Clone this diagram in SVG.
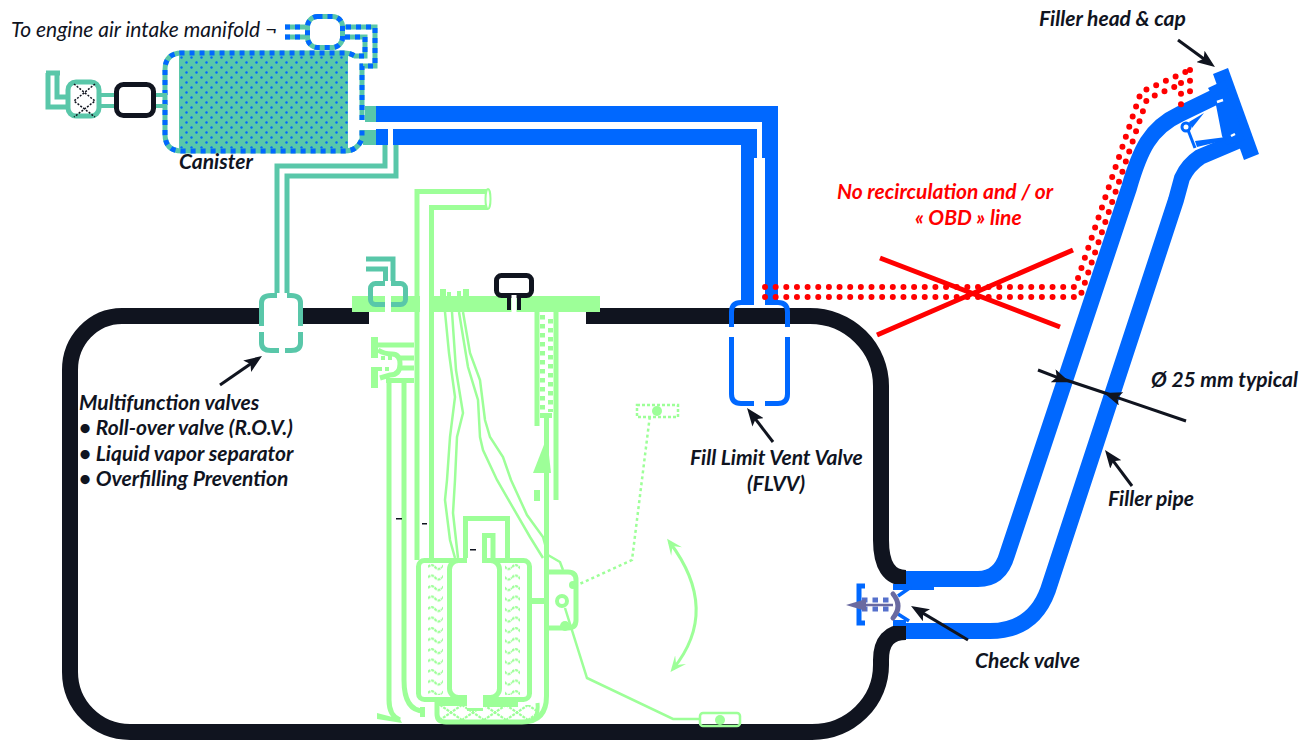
<svg xmlns="http://www.w3.org/2000/svg" width="1304" height="747" viewBox="0 0 1304 747">
<style>
text{font-family:"Lato","Open Sans","Liberation Sans",sans-serif;font-style:italic;fill:#10141f;font-size:21px}
.b{font-weight:700}
.r{fill:#f00}
.tank{fill:none;stroke:#10141f;stroke-width:16}
.blue{fill:none;stroke:#0068ff;stroke-width:16}
.bt{fill:none;stroke:#0068ff;stroke-width:5}
.bf{fill:#0068ff}
.teal{fill:none;stroke:#59c7a9;stroke-width:5}
.dash{fill:none;stroke:#0068ff;stroke-width:5;stroke-dasharray:5 5}
.g{fill:none;stroke:#9dff98;stroke-width:5}
.gt{fill:none;stroke:#9dff98;stroke-width:2.5}
.gf{fill:#9dff98}
.red{fill:none;stroke:#f00;stroke-width:6;stroke-linecap:round;stroke-dasharray:0 10.65}
.arrow{fill:none;stroke:#10141f;stroke-width:3;marker-end:url(#ah)}
</style>
<defs>
<marker id="ah" markerUnits="userSpaceOnUse" viewBox="0 0 18 14" refX="10" refY="7" markerWidth="18" markerHeight="14" orient="auto"><path d="M0,0L18,7L0,14L4,7Z" fill="#10141f"/></marker>
<marker id="gh" markerUnits="userSpaceOnUse" viewBox="0 0 16 14" refX="12" refY="7" markerWidth="16" markerHeight="14" orient="auto-start-reverse"><path d="M0,0L16,7L0,14L7,7Z" fill="#9dff98"/></marker>
<pattern id="dots" width="10" height="10" patternUnits="userSpaceOnUse" x="179" y="55"><rect width="10" height="10" fill="#59c7a9"/><circle cx="2.5" cy="2.5" r="1.2" fill="#0068ff"/><circle cx="7.5" cy="7.5" r="1.2" fill="#0068ff"/></pattern>
<pattern id="wave" width="14" height="10.5" patternUnits="userSpaceOnUse" x="428" y="563"><path d="M0,4Q3.5,0 7,4T14,4" fill="none" stroke="#9dff98" stroke-width="2.2" stroke-dasharray="3 .8"/></pattern>
<pattern id="xx" width="22" height="15" patternUnits="userSpaceOnUse" x="440" y="705"><path d="M0,0L22,15M22,0L0,15" fill="none" stroke="#9dff98" stroke-width="2.2" stroke-dasharray="3 1"/></pattern>
</defs>

<g id="tank">
<path class="tank" d="M260,316H122A52,54 0 0 0 70,370V672A60,60 0 0 0 130,732H812A69,67 0 0 0 881,665V660Q881,632 906,632"/>
<path class="tank" d="M906,578Q881,578 881,540V386A71,70 0 0 0 810,316H586"/>
<path class="tank" d="M300,316H369"/>
</g>

<g id="connectors">
<g id="pipes-vent">
<path class="bf" d="M376,106H778V300H765V158H762V122H376Z"/>
<path class="bf" d="M376,129H757V158H754V300H741V145H376Z"/>
<rect x="388" y="129" width="5" height="16" fill="#fff"/>
<rect x="365" y="106" width="11" height="16" fill="#59c7a9"/>
<rect x="363" y="130" width="13" height="15" fill="#59c7a9"/>
<path class="teal" d="M277,293V166H385V145"/>
<path class="teal" d="M287,293V176H396V145"/>
</g>
<g id="pipes-filler">
<path class="blue" d="M906,579H978Q1000,579 1007,555L1125,200L1129,188C1140,150 1150,128 1180,114L1215,97"/>
<path class="blue" d="M906,631H990Q1033,631 1048,590L1176,200L1182,178Q1188,165 1200,157L1240,140"/>
</g>
<g id="red-line">
<path class="red" d="M765,287H1075L1141,92L1190,70"/>
<path class="red" d="M765,297H1080L1147,99L1181,84"/>
<path class="red" d="M1190,70V101"/>
<path class="red" d="M1181,83V105"/>
<path d="M880,258L1060,327M877,335L1073,250" fill="none" stroke="#f00" stroke-width="5"/>
</g>
<g id="leaders">
<path class="arrow" d="M1178,40L1208.5,62.3"/>
<path class="arrow" d="M220,385L255.4,360.5"/>
<path class="arrow" d="M773,442L751.9,414.4"/>
<path class="arrow" d="M968,640L917.9,610.1"/>
<path d="M1060,378L1114,396" fill="none" stroke="#10141f" stroke-width="3"/>
<path class="arrow" d="M1038,370L1062.4,379.4"/>
<path class="arrow" d="M1186,421L1111.6,395.6"/>
<path class="arrow" d="M1132,486L1109.8,456.4"/>
</g>
</g>

<g id="canister">
<rect x="179" y="55" width="169" height="96" fill="url(#dots)"/>
<path id="canbody" d="M362,120V66H375V27H345M345,37H365V56H355Q350,53 345,53H182Q165,53 165,70V134Q165,151 182,151H345Q357,151 362,139V130" fill="none" stroke="#59c7a9" stroke-width="5"/>
<path class="dash" d="M362,120V66H375V27H345M345,37H365V56H355Q350,53 345,53H182Q165,53 165,70V134Q165,151 182,151H345Q357,151 362,139V130"/>
</g>

<g id="intake-valve">
<rect x="307.5" y="16.5" width="35" height="31" rx="10" fill="#fff" stroke="#59c7a9" stroke-width="5"/>
<rect class="dash" x="307.5" y="16.5" width="35" height="31" rx="10"/>
<path d="M285,27H305M285,37H305" fill="none" stroke="#59c7a9" stroke-width="5"/>
<path d="M285,27H305M285,37H305" class="dash"/>
</g>

<g id="air-filter">
<path class="teal" d="M48,73V107H68M57,73V97H68M46,73H60"/>
<rect class="teal" x="68" y="82" width="31" height="34" rx="8"/>
<path d="M74,84L95,101L74,117M95,84L74,101L95,117" fill="none" stroke="#10141f" stroke-width="1.5" stroke-dasharray="2 1.5"/>
<path d="M101,95H115M101,106H115M155,95H167M155,106H167" fill="none" stroke="#59c7a9" stroke-width="4"/>
<rect x="116.5" y="84.5" width="37" height="31" rx="7" fill="#fff" stroke="#10141f" stroke-width="5"/>
</g>

<g id="multifunction-valve">
<path class="teal" d="M261.500,326V303Q261.500,295.500 271,295.500H277M287,295.500H291Q300.500,295.500 300.500,303V326M261.500,332V343Q261.500,350.500 271,350.500H279M285,350.500H291Q300.500,350.500 300.500,343V332"/>
</g>

<g id="flvv">
<path class="bt" d="M731.500,327V312Q731.500,302.500 741,302.500H754M765,302.500H778Q787.500,302.500 787.500,312V327M731.500,337V394Q731.500,403.500 741,403.500H754M765,403.500H778Q787.500,403.500 787.500,394V337"/>
</g>

<g id="filler-head">
<path class="bf" d="M1213,74L1228,68L1259,154L1244,160Z"/>
<path class="bf" d="M1208,88L1225,80L1245,140L1226,145L1222,136L1215,100Z"/>
<path d="M1217,102L1223,100M1231,136L1235,134" stroke="#fff" stroke-width="2.500" fill="none"/>
<circle cx="1186" cy="127" r="4" fill="#fff" stroke="#0068ff" stroke-width="3"/>
<path class="bf" d="M1189,122L1204,113L1192,128Z"/>
<path d="M1188,130L1195,148" stroke="#0068ff" stroke-width="3" fill="none"/>
<path class="bf" d="M1195,141L1226,137L1226,140L1197,147Z"/>
</g>

<g id="check-valve">
<path d="M865,586H859V623H865" fill="none" stroke="#0068ff" stroke-width="5"/>
<rect class="bf" x="893" y="584" width="41" height="6"/>
<rect class="bf" x="893" y="620" width="13" height="6"/>
<path d="M898,596L911,587M898,614L909,621" fill="none" stroke="#0068ff" stroke-width="3.500"/>
<path d="M862,600H892M862,609H892" fill="none" stroke="#5570cc" stroke-width="5" stroke-dasharray="5.500 5"/>
<path d="M860,605H893" stroke="#6a6aa0" stroke-width="2.500" fill="none"/>
<path d="M846,605L866,599L866,611Z" fill="#6a6aa0"/>
<path d="M893,594Q903,606 893,618" fill="none" stroke="#6a6aa0" stroke-width="5" stroke-linecap="round"/>
</g>

<g id="pump">
<rect class="gf" x="352" y="296" width="248" height="16"/>
<rect x="420" y="296" width="9" height="16" fill="#fff"/>
<rect x="440" y="289" width="6" height="8" class="gf"/><rect x="447" y="292" width="4" height="5" class="gf"/><rect x="457" y="291" width="4" height="6" class="gf"/><rect x="463" y="289" width="6" height="8" class="gf"/>
<path class="g" d="M417,560V191.500H488M431.500,560V207.500H488"/>
<ellipse cx="488" cy="199" rx="2.500" ry="10" fill="#fff" stroke="#9dff98" stroke-width="2"/>
<path class="g" d="M389,378V700Q389,716 400,720"/>
<path class="gf" d="M377,713L400,719L402,723L377,719Z"/>
<path class="g" d="M404,383V680Q404,711 424,711"/>
<rect class="gf" x="420" y="707" width="5" height="10"/>
<rect class="gf" x="371" y="337" width="7" height="21"/>
<rect class="gf" x="371" y="367" width="7" height="21"/>
<path class="g" d="M378,345H414M400,358H414M400,368H414M386,380.500H414" stroke-width="4.500"/>
<path class="g" d="M378,350Q384,354 392,354Q400,354 400,364Q400,375 390,375L380,378" stroke-width="3.500"/>
<path d="M381,356h4v4h-4zM388,356h4v4h-4zM378,367h4v4h-4zM385,367h4v4h-4z" class="gf"/>
<path class="g" d="M537,312V426M556,312V500"/>
<path d="M542.500,315V412" fill="none" stroke="#9dff98" stroke-width="5" stroke-dasharray="4.500 4.500"/>
<path d="M550.500,319V412" fill="none" stroke="#9dff98" stroke-width="5" stroke-dasharray="4.500 4.500"/>
<rect class="gf" x="540" y="413" width="12" height="5"/>
<path class="gf" d="M547,437L551,473H533Z"/>
<rect class="gf" x="534" y="490" width="6" height="11"/>
<path class="g" d="M546.500,413V696Q546.500,722 522,722H446Q437,722 437,714V702"/>
<path d="M537.500,703Q538.500,712 535,718" fill="none" stroke="#9dff98" stroke-width="4"/>
<rect x="440" y="705" width="96" height="15" fill="url(#xx)"/>
<rect x="428" y="563" width="15" height="132" fill="url(#wave)"/>
<rect x="505" y="563" width="15" height="132" fill="url(#wave)"/>
<rect class="g" x="418.500" y="560.500" width="111" height="139" rx="6"/>
<rect class="g" x="449.500" y="560.500" width="50" height="137" rx="9" fill="#fff"/>
<rect x="467" y="555" width="15" height="10" fill="#fff"/>
<rect x="467" y="694" width="16" height="14" fill="#fff"/>
<path class="g" d="M465.500,558V518.500H507.500V558"/>
<path class="g" d="M484.500,560V535.500H493V560"/>
<path class="gf" d="M437,702H467V706H437ZM483,702H518V707H483ZM467,708H483V711H467Z"/>
<path class="gt" d="M445,312L449,353L455,397L450,437L447,480L445,500L450,540L455,558"/>
<path class="gt" d="M452,312L456,370L463,413L457,437L455,480L453,513L458,558"/>
<path class="gt" d="M459,312L468,367L478,400L480,437L483,450L497,480L530,537L543,558"/>
<path class="gt" d="M463,312L470,353L480,380L485,420L490,437L503,457L511,480L527,515L543,537L548,555L560,562L563,570"/>
<path class="g" d="M546,572H568Q576,572 576,580V620Q576,628 568,628H546"/>
<rect class="gf" x="530" y="598" width="16" height="6"/>
<circle cx="562" cy="601" r="5" fill="#fff" stroke="#9dff98" stroke-width="4"/>
<circle cx="573" cy="585" r="4" class="gf"/><circle cx="565" cy="626" r="5" class="gf"/>
<path class="gt" stroke-width="3" d="M565,608L587,678L673,719H700"/>
<rect class="gt" x="700" y="713" width="40" height="13" rx="3"/>
<circle cx="720" cy="720" r="5" class="gf"/>
<path class="gt" d="M575,586L632,560L650,415" stroke-dasharray="3 3"/>
<rect class="gt" x="637" y="405" width="41" height="12" stroke-dasharray="3 2"/>
<circle cx="657" cy="411" r="5" class="gf"/>
<path d="M669.500,542Q721,610 673,669" fill="none" stroke="#9dff98" stroke-width="3" marker-start="url(#gh)" marker-end="url(#gh)"/>
<rect x="396" y="518" width="6" height="1.500" fill="#10141f"/><rect x="422" y="523" width="5" height="1.500" fill="#10141f"/><rect x="470" y="549" width="6" height="1.500" fill="#10141f"/>
</g>

<g id="roll-valve">
<path class="teal" d="M366,259H393V283M366,269H385.500V283"/>
<rect class="teal" x="370.500" y="283.500" width="35" height="21" rx="5"/>
<rect x="385" y="281" width="6" height="31" fill="#fff"/>
</g>

<g id="top-valve">
<rect x="496.500" y="275.500" width="35" height="20" rx="5" fill="#fff" stroke="#10141f" stroke-width="5"/>
<path d="M509,295V310M519,295V310" fill="none" stroke="#10141f" stroke-width="4"/>
<rect x="511.500" y="295" width="5" height="17" fill="#fff"/>
</g>

<g id="labels">
<text x="11" y="37">To engine air intake manifold ¬</text>
<text class="b" x="179" y="169">Canister</text>
<text class="b" x="1039" y="26">Filler head &amp; cap</text>
<text class="b r" x="837" y="199">No recirculation and / or</text>
<text class="b r" x="915" y="225">« OBD » line</text>
<text class="b" x="1151" y="387">Ø 25 mm typical</text>
<text class="b" x="79" y="410">Multifunction valves</text>
<text class="b" x="79" y="435">• Roll-over valve (R.O.V.)</text>
<text class="b" x="79" y="461">• Liquid vapor separator</text>
<text class="b" x="79" y="486">• Overfilling Prevention</text>
<text class="b" x="690" y="465">Fill Limit Vent Valve</text>
<text class="b" x="747" y="491">(FLVV)</text>
<text class="b" x="1108" y="506">Filler pipe</text>
<text class="b" x="975" y="668">Check valve</text>
</g>
</svg>
